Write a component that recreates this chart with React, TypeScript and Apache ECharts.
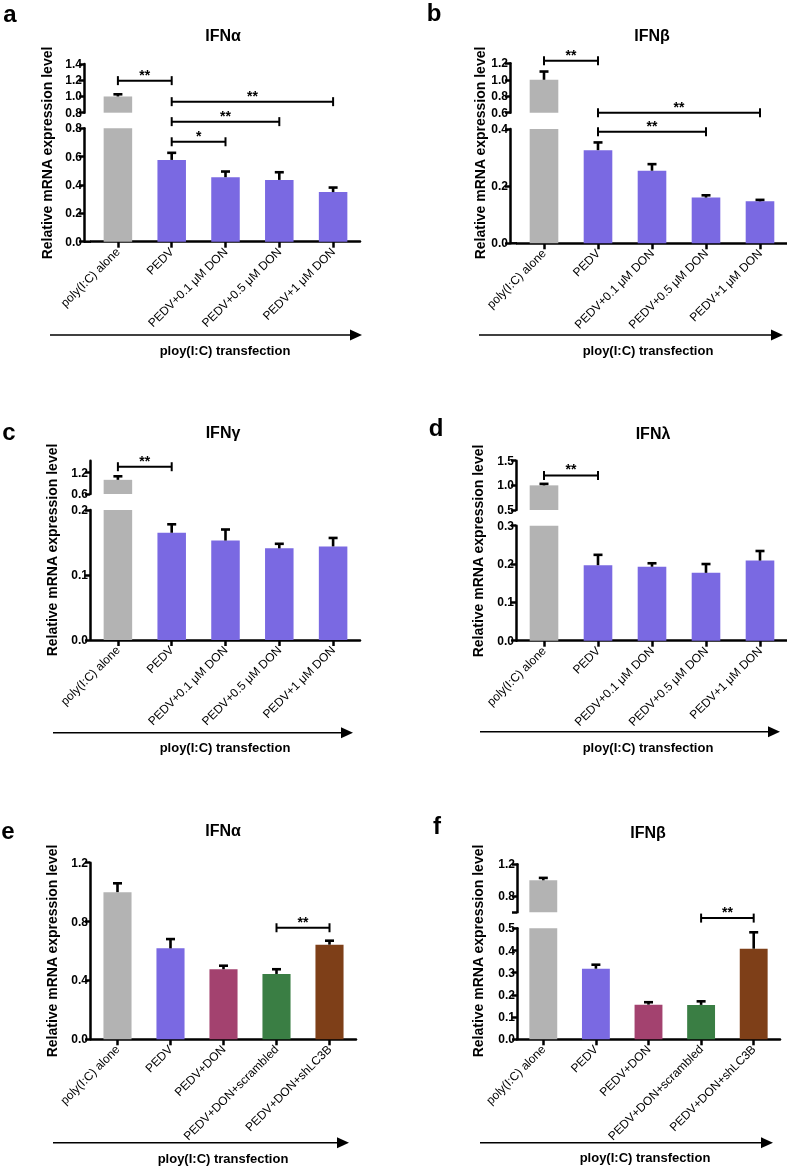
import React, { useEffect, useRef } from "react";
import * as echarts from "echarts";

// ---------- categories ----------
const catsDose = ["poly(I:C) alone", "PEDV", "PEDV+0.1 μM DON", "PEDV+0.5 μM DON", "PEDV+1 μM DON"];
const catsSh = ["poly(I:C) alone", "PEDV", "PEDV+DON", "PEDV+DON+scrambled", "PEDV+DON+shLC3B"];

// ---------- colours ----------
const colorsDose = ["#B3B3B3", "#7A69E2", "#7A69E2", "#7A69E2", "#7A69E2"];
const colorsSh = ["#B3B3B3", "#7A69E2", "#A3426F", "#3A7E44", "#7E3F18"];

// ---------- values (mean, upward error) ----------
const aMean = [1.0, 0.577, 0.455, 0.436, 0.35];
const aErr = [0.027, 0.05, 0.04, 0.054, 0.032];
const bMean = [1.0, 0.326, 0.254, 0.16, 0.147];
const bErr = [0.1, 0.027, 0.023, 0.008, 0.005];
const cMean = [1.0, 0.165, 0.153, 0.141, 0.144];
const cErr = [0.1, 0.013, 0.017, 0.007, 0.013];
const dMean = [1.0, 0.197, 0.193, 0.177, 0.209];
const dErr = [0.03, 0.027, 0.009, 0.023, 0.025];
const eMean = [1.0, 0.618, 0.476, 0.444, 0.643];
const eErr = [0.06, 0.063, 0.024, 0.032, 0.027];
const fMean = [1.0, 0.318, 0.156, 0.155, 0.408];
const fErr = [0.03, 0.018, 0.011, 0.016, 0.074];

// ---------- tick values ----------
const aLowTicks = [0, 0.2, 0.4, 0.6, 0.8];
const aUpTicks = [0.8, 1.0, 1.2, 1.4];
const bLowTicks = [0, 0.2, 0.4];
const bUpTicks = [0.6, 0.8, 1.0, 1.2];
const cLowTicks = [0, 0.1, 0.2];
const cUpTicks = [0.6, 1.2];
const dLowTicks = [0, 0.1, 0.2, 0.3];
const dUpTicks = [0.5, 1.0, 1.5];
const eTicks = [0, 0.4, 0.8, 1.2];
const fLowTicks = [0, 0.1, 0.2, 0.3, 0.4, 0.5];
const fUpTicks = [0.6, 0.8, 1.2];
const fUpLabels = [0.8, 1.2];

// ---------- significance brackets: [from, to, y, segment, label] ----------
const aBrackets: any[] = [
  [0, 1, 1.195, "upper", "**"],
  [1, 4, 0.936, "upper", "**"],
  [1, 3, 0.847, "lower", "**"],
  [1, 2, 0.705, "lower", "*"],
];
const bBrackets: any[] = [
  [0, 1, 1.23, "upper", "**"],
  [1, 4, 0.6, "upper", "**"],
  [1, 3, 0.39, "lower", "**"],
];
const cBrackets: any[] = [[0, 1, 1.37, "upper", "**"]];
const dBrackets: any[] = [[0, 1, 1.2, "upper", "**"]];
const eBrackets: any[] = [[3, 4, 0.758, "lower", "**"]];
const fBrackets: any[] = [[3, 4, 0.546, "lower", "**"]];

const yName = "Relative mRNA expression level";
const xNote = "ploy(I:C) transfection";

// ---------- layout (page pixels) ----------
const panels: any[] = [
  {
    region: [0, 0, 393, 388],
    letter: "a", letterPos: [10, 13], title: "IFNα", titlePos: [223, 35],
    cats: catsDose, colors: colorsDose, mean: aMean, err: aErr, brackets: aBrackets,
    left: 91, width: 269, axisX: 84,
    lower: { top: 128.3, bottom: 241.7, min: 0, max: 0.8, ticks: aLowTicks, labels: aLowTicks },
    upper: { top: 64, bottom: 112.7, min: 0.8, max: 1.4, ticks: aUpTicks, labels: aUpTicks },
    namePos: [47, 153], arrow: [50, 362, 335], notePos: [225, 350],
  },
  {
    region: [393, 0, 394, 388],
    letter: "b", letterPos: [434, 12], title: "IFNβ", titlePos: [652, 35],
    cats: catsDose, colors: colorsDose, mean: bMean, err: bErr, brackets: bBrackets,
    left: 517, width: 270, axisX: 510,
    lower: { top: 129, bottom: 243.3, min: 0, max: 0.4, ticks: bLowTicks, labels: bLowTicks },
    upper: { top: 63.3, bottom: 112.7, min: 0.6, max: 1.2, ticks: bUpTicks, labels: bUpTicks },
    namePos: [480, 153], arrow: [479, 783, 335], notePos: [648, 350],
  },
  {
    region: [0, 388, 393, 388],
    letter: "c", letterPos: [9, 431], title: "IFNγ", titlePos: [223, 432],
    cats: catsDose, colors: colorsDose, mean: cMean, err: cErr, brackets: cBrackets,
    left: 91, width: 269, axisX: 90,
    lower: { top: 510, bottom: 640, min: 0, max: 0.2, ticks: cLowTicks, labels: cLowTicks },
    upper: { top: 460.7, bottom: 494, min: 0.6, max: 1.54, ticks: cUpTicks, labels: cUpTicks },
    namePos: [51.7, 550], arrow: [53, 353, 732.7], notePos: [225, 747],
  },
  {
    region: [393, 388, 394, 388],
    letter: "d", letterPos: [436, 427], title: "IFNλ", titlePos: [653, 433],
    cats: catsDose, colors: colorsDose, mean: dMean, err: dErr, brackets: dBrackets,
    left: 517, width: 270, axisX: 516,
    lower: { top: 525.7, bottom: 640.7, min: 0, max: 0.3, ticks: dLowTicks, labels: dLowTicks },
    upper: { top: 460.7, bottom: 510, min: 0.5, max: 1.5, ticks: dUpTicks, labels: dUpTicks },
    namePos: [478, 551], arrow: [480, 780, 731.7], notePos: [648, 747],
  },
  {
    region: [0, 776, 393, 390],
    letter: "e", letterPos: [8, 830], title: "IFNα", titlePos: [223, 830],
    cats: catsSh, colors: colorsSh, mean: eMean, err: eErr, brackets: eBrackets,
    left: 91, width: 265, axisX: 90,
    lower: { top: 862.7, bottom: 1039.3, min: 0, max: 1.2, ticks: eTicks, labels: eTicks },
    upper: null,
    namePos: [51.7, 951], arrow: [53, 349, 1142.7], notePos: [223, 1158],
  },
  {
    region: [393, 776, 394, 390],
    letter: "f", letterPos: [437, 825], title: "IFNβ", titlePos: [648, 832],
    cats: catsSh, colors: colorsSh, mean: fMean, err: fErr, brackets: fBrackets,
    left: 517, width: 263, axisX: 517,
    lower: { top: 928.3, bottom: 1039.3, min: 0, max: 0.5, ticks: fLowTicks, labels: fLowTicks },
    upper: { top: 864.3, bottom: 912.3, min: 0.6, max: 1.2, ticks: fUpTicks, labels: fUpLabels },
    namePos: [478, 951], arrow: [480, 773, 1142.7], notePos: [645, 1157],
  },
];

const FONT = "'Liberation Sans', Arial, Helvetica, sans-serif";

function textStyle(text: string, size: number, weight: string) {
  return {
    text,
    fill: "#000",
    font: `${weight} ${size}px ${FONT}`,
    fontSize: size,
    fontWeight: weight,
    fontFamily: FONT,
    align: "center",
    verticalAlign: "middle",
    textAlign: "center",
    textVerticalAlign: "middle",
  };
}

function buildOption(p: any) {
  const [ox, oy] = p.region;
  const grid: any[] = [];
  const xAxis: any[] = [];
  const yAxis: any[] = [];
  const series: any[] = [];
  const graphic: any[] = [];
  const segs: any[] = p.upper ? [["lower", p.lower], ["upper", p.upper]] : [["lower", p.lower]];
  const lowMax = p.lower.max;

  segs.forEach(([name, g]) => {
    const gi = grid.length;
    grid.push({ left: p.left - ox, width: p.width, top: g.top - oy, height: g.bottom - g.top });
    xAxis.push({
      type: "category",
      gridIndex: gi,
      data: p.cats,
      show: name === "lower",
      boundaryGap: true,
      axisLine: { show: true, onZero: false, lineStyle: { color: "#000", width: 2.5 } },
      axisTick: { show: true, alignWithLabel: true, length: 6, lineStyle: { color: "#000", width: 2.5 } },
      axisLabel: { rotate: 45, interval: 0, fontSize: 12, color: "#000", margin: 8, fontFamily: FONT },
      splitLine: { show: false },
    });
    yAxis.push({
      type: "value",
      gridIndex: gi,
      min: g.min,
      max: g.max,
      offset: p.left - p.axisX,
      axisLine: { show: true, onZero: false, lineStyle: { color: "#000", width: 2.5 } },
      axisTick: { show: true, length: 5, customValues: g.ticks, lineStyle: { color: "#000", width: 2.5 } },
      axisLabel: {
        customValues: g.labels,
        formatter: (v: number) => Number(v).toFixed(1),
        fontSize: 12,
        fontWeight: "bold",
        color: "#000",
        margin: 2,
        fontFamily: FONT,
      },
      splitLine: { show: false },
    });
    series.push({
      type: "bar",
      xAxisIndex: gi,
      yAxisIndex: gi,
      barCategoryGap: "47%",
      clip: true,
      silent: true,
      data: p.mean.map((v: number, i: number) => ({
        value: name === "upper" && v <= lowMax ? "-" : v,
        itemStyle: { color: p.colors[i] },
      })),
    });
    const errData: any[] = [];
    p.mean.forEach((v: number, i: number) => {
      const seg = p.upper && v > lowMax ? "upper" : "lower";
      if (seg === name) errData.push([i, v, p.err[i]]);
    });
    if (errData.length) {
      series.push({
        type: "custom",
        xAxisIndex: gi,
        yAxisIndex: gi,
        silent: true,
        z: 5,
        encode: { x: 0, y: 1 },
        data: errData,
        renderItem: (params: any, api: any) => {
          const x = api.value(0);
          const v = api.value(1);
          const e = api.value(2);
          const p0 = api.coord([x, v]);
          const p1 = api.coord([x, v + e]);
          const st = { stroke: "#000", lineWidth: 2.6 };
          return {
            type: "group",
            children: [
              { type: "line", shape: { x1: p0[0], y1: p0[1], x2: p1[0], y2: p1[1] }, style: st },
              { type: "line", shape: { x1: p1[0] - 4.5, y1: p1[1], x2: p1[0] + 4.5, y2: p1[1] }, style: st },
            ],
          };
        },
      });
    }
    const br = p.brackets.filter((b: any) => b[3] === name);
    if (br.length) {
      series.push({
        type: "custom",
        xAxisIndex: gi,
        yAxisIndex: gi,
        silent: true,
        clip: false,
        z: 6,
        encode: { x: [0, 1], y: 2 },
        data: br.map((b: any) => [b[0], b[1], b[2]]),
        renderItem: (params: any, api: any) => {
          const a = api.coord([api.value(0), api.value(2)]);
          const b = api.coord([api.value(1), api.value(2)]);
          const st = { stroke: "#000", lineWidth: 2 };
          return {
            type: "group",
            children: [
              { type: "line", shape: { x1: a[0], y1: a[1], x2: b[0], y2: b[1] }, style: st },
              { type: "line", shape: { x1: a[0], y1: a[1] - 4.5, x2: a[0], y2: a[1] + 4.5 }, style: st },
              { type: "line", shape: { x1: b[0], y1: b[1] - 4.5, x2: b[0], y2: b[1] + 4.5 }, style: st },
              {
                type: "text",
                x: (a[0] + b[0]) / 2,
                y: a[1] - 6,
                style: textStyle(br[params.dataIndex][4], 14, "bold"),
              },
            ],
          };
        },
      });
    }
  });

  if (p.axisX < p.left) {
    graphic.push({
      type: "line",
      shape: { x1: p.axisX - ox, y1: p.lower.bottom - oy, x2: p.left - ox, y2: p.lower.bottom - oy },
      style: { stroke: "#000", lineWidth: 2.5 },
      silent: true,
    });
  }
  graphic.push({ type: "text", x: p.letterPos[0] - ox, y: p.letterPos[1] - oy, style: textStyle(p.letter, 24, "bold"), silent: true });
  graphic.push({ type: "text", x: p.titlePos[0] - ox, y: p.titlePos[1] - oy, style: textStyle(p.title, 16, "bold"), silent: true });
  graphic.push({
    type: "text",
    x: p.namePos[0] - ox,
    y: p.namePos[1] - oy,
    rotation: Math.PI / 2,
    style: textStyle(yName, 14, "bold"),
    silent: true,
  });
  const [ax1, ax2, ay] = p.arrow;
  graphic.push({
    type: "line",
    shape: { x1: ax1 - ox, y1: ay - oy, x2: ax2 - 10 - ox, y2: ay - oy },
    style: { stroke: "#000", lineWidth: 1.5 },
    silent: true,
  });
  graphic.push({
    type: "polygon",
    shape: { points: [[ax2 - 12 - ox, ay - 5.5 - oy], [ax2 - ox, ay - oy], [ax2 - 12 - ox, ay + 5.5 - oy]] },
    style: { fill: "#000" },
    silent: true,
  });
  graphic.push({ type: "text", x: p.notePos[0] - ox, y: p.notePos[1] - oy, style: textStyle(xNote, 13, "bold"), silent: true });

  return { animation: false, grid, xAxis, yAxis, series, graphic: { elements: graphic } };
}

function Panel({ p }: { p: any }) {
  const ref = useRef<HTMLDivElement>(null);
  const [ox, oy, w, h] = p.region;
  useEffect(() => {
    if (!ref.current) return;
    const chart = echarts.init(ref.current, undefined, { renderer: "svg" });
    chart.setOption(buildOption(p) as any);
    return () => chart.dispose();
  }, []);
  return <div ref={ref} style={{ position: "fixed", left: ox, top: oy, width: w, height: h }} />;
}

export default function App() {
  return (
    <div>
      {panels.map((p, i) => (
        <Panel key={i} p={p} />
      ))}
    </div>
  );
}
